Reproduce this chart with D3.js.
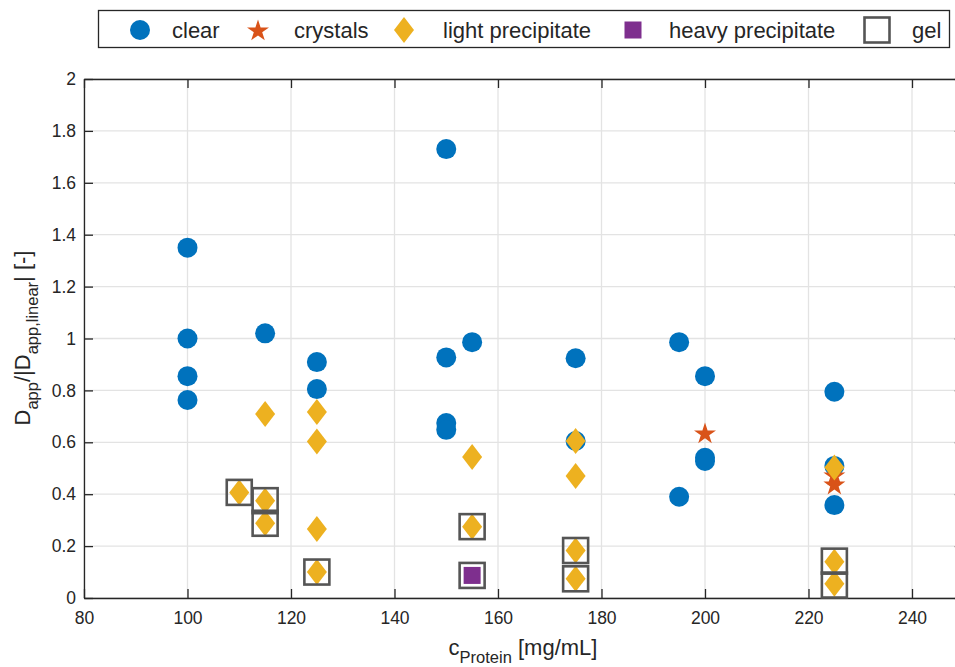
<!DOCTYPE html>
<html>
<head>
<meta charset="utf-8">
<script src="https://cdn.jsdelivr.net/npm/d3@7"></script>
<style>
  body { margin: 0; background: #fff; }
  svg text { font-family: "Liberation Sans", Arial, sans-serif; fill: #262626; }
</style>
</head>
<body>
<div id="chart"></div>
<script>
// data: [c_Protein, ratio]
var clear = [
  [100, 1.35], [100, 1.0], [100, 0.855], [100, 0.763],
  [115, 1.02],
  [125, 0.909], [125, 0.805],
  [150, 1.73], [150, 0.927], [150, 0.674], [150, 0.648],
  [155, 0.986],
  [175, 0.924], [175, 0.605],
  [195, 0.986], [195, 0.39],
  [200, 0.855], [200, 0.54], [200, 0.528],
  [225, 0.795], [225, 0.509], [225, 0.358]
];
var crystals = [[200, 0.636], [225, 0.474], [225, 0.439]];
var lightPrecip = [
  [110, 0.407],
  [115, 0.709], [115, 0.375], [115, 0.288],
  [125, 0.717], [125, 0.603], [125, 0.266], [125, 0.1],
  [155, 0.543], [155, 0.275],
  [175, 0.605], [175, 0.47], [175, 0.183], [175, 0.074],
  [225, 0.503], [225, 0.14], [225, 0.055]
];
var heavyPrecip = [[155, 0.087]];
var gel = [
  [110, 0.407], [115, 0.375], [115, 0.288], [125, 0.1],
  [155, 0.275], [155, 0.087], [175, 0.183], [175, 0.074],
  [225, 0.142], [225, 0.05]
];
var xTicks = [80, 100, 120, 140, 160, 180, 200, 220, 240];
var yTicks = [0, 0.2, 0.4, 0.6, 0.8, 1, 1.2, 1.4, 1.6, 1.8, 2];

var width = 955, height = 667;
var svg = d3.select("#chart").append("svg")
    .attr("width", width)
    .attr("height", height);

var x = d3.scaleLinear().domain([80, 250]).range([84, 963.75]);
var y = d3.scaleLinear().domain([0, 2]).range([598, 79]);

// grid
var grid = svg.append("g");
grid.selectAll("line.gx").data(xTicks).enter().append("line")
    .attr("x1", d => x(d)).attr("x2", d => x(d))
    .attr("y1", y(0)).attr("y2", y(2))
    .attr("stroke", "#e3e3e3").attr("stroke-width", 1.3);
grid.selectAll("line.gy").data(yTicks).enter().append("line")
    .attr("x1", x(80)).attr("x2", x(250))
    .attr("y1", d => y(d)).attr("y2", d => y(d))
    .attr("stroke", "#e3e3e3").attr("stroke-width", 1.3);

// axes (ticks inward)
var tk = 9;
svg.append("g").attr("transform", `translate(0,${y(0)})`)
    .call(d3.axisBottom(x).tickValues(xTicks).tickSizeInner(-tk).tickSizeOuter(0).tickPadding(14));
svg.append("g").attr("transform", `translate(0,${y(2)})`)
    .call(d3.axisTop(x).tickValues(xTicks).tickSizeInner(-tk).tickSizeOuter(0).tickFormat(""));
svg.append("g").attr("transform", `translate(${x(80)},0)`)
    .call(d3.axisLeft(y).tickValues(yTicks).tickSizeInner(-tk).tickSizeOuter(0).tickPadding(8).tickFormat(d3.format("~g")));
svg.append("g").attr("transform", `translate(${x(250)},0)`)
    .call(d3.axisRight(y).tickValues(yTicks).tickSizeInner(-tk).tickSizeOuter(0).tickFormat(""));

svg.selectAll(".domain").attr("stroke", "#262626").attr("stroke-width", 1.3);
svg.selectAll(".tick line").attr("stroke", "#262626").attr("stroke-width", 1.3);
svg.selectAll(".tick text").style("font-size", "17.5px").attr("fill", "#262626")
    .style("font-family", "Liberation Sans, Arial, sans-serif");

// markers
var plot = svg.append("g");
var diamond = "M0,-13L10,0L0,13L-10,0Z";
var star = d3.symbol().type(d3.symbolStar).size(150)();

plot.selectAll("circle.clear").data(clear).enter().append("circle")
    .attr("cx", d => x(d[0])).attr("cy", d => y(d[1]))
    .attr("r", 10).attr("fill", "#0072BD");
plot.selectAll("path.star").data(crystals).enter().append("path")
    .attr("d", star)
    .attr("transform", d => `translate(${x(d[0])},${y(d[1]) + 1})`)
    .attr("fill", "#D95319");
plot.selectAll("path.dia").data(lightPrecip).enter().append("path")
    .attr("d", diamond)
    .attr("transform", d => `translate(${x(d[0])},${y(d[1])})`)
    .attr("fill", "#EDB120");
plot.selectAll("rect.heavy").data(heavyPrecip).enter().append("rect")
    .attr("x", d => x(d[0]) - 8.5).attr("y", d => y(d[1]) - 8.5)
    .attr("width", 17).attr("height", 17).attr("fill", "#7E2F8E");
plot.selectAll("rect.gel").data(gel).enter().append("rect")
    .attr("x", d => x(d[0]) - 12.5).attr("y", d => y(d[1]) - 12.5)
    .attr("width", 25).attr("height", 25)
    .attr("fill", "none").attr("stroke", "#555555").attr("stroke-width", 2.6);

// axis labels
var xl = svg.append("text").attr("x", 523).attr("y", 655)
    .attr("text-anchor", "middle").style("font-size", "22px");
xl.append("tspan").text("c");
xl.append("tspan").attr("dy", 8).style("font-size", "16.5px").text("Protein");
xl.append("tspan").attr("dy", -8).text(" [mg/mL]");

var yl = svg.append("text")
    .attr("transform", "translate(30,338) rotate(-90)")
    .attr("text-anchor", "middle").style("font-size", "22px");
yl.append("tspan").text("D");
yl.append("tspan").attr("dy", 8).style("font-size", "16.5px").text("app");
yl.append("tspan").attr("dy", -8).text("/|D");
yl.append("tspan").attr("dy", 8).style("font-size", "16.5px").text("app,linear");
yl.append("tspan").attr("dy", -8).text("| [-]");

// legend
var legendNames = ["clear", "crystals", "light precipitate", "heavy precipitate", "gel"];
var legendX = [140, 258, 404, 633, 877];
var legendTextX = [172, 294, 443, 669, 912];
var leg = svg.append("g");
leg.append("rect").attr("x", 98.5).attr("y", 10.5).attr("width", 851).attr("height", 37)
    .attr("fill", "#fff").attr("stroke", "#262626").attr("stroke-width", 1.3);
var ly = 30;
leg.append("circle").attr("cx", legendX[0]).attr("cy", ly).attr("r", 10).attr("fill", "#0072BD");
leg.append("path").attr("d", star).attr("transform", `translate(${legendX[1]},${ly + 1})`).attr("fill", "#D95319");
leg.append("path").attr("d", diamond).attr("transform", `translate(${legendX[2]},${ly})`).attr("fill", "#EDB120");
leg.append("rect").attr("x", legendX[3] - 8.5).attr("y", ly - 8.5).attr("width", 17).attr("height", 17).attr("fill", "#7E2F8E");
leg.append("rect").attr("x", legendX[4] - 12.5).attr("y", ly - 12.5).attr("width", 25).attr("height", 25)
    .attr("fill", "none").attr("stroke", "#555555").attr("stroke-width", 2.6);
leg.selectAll("text").data(legendNames).enter().append("text")
    .attr("x", (d, i) => legendTextX[i]).attr("y", ly + 8)
    .style("font-size", "22px").text(d => d);
</script>
</body>
</html>
